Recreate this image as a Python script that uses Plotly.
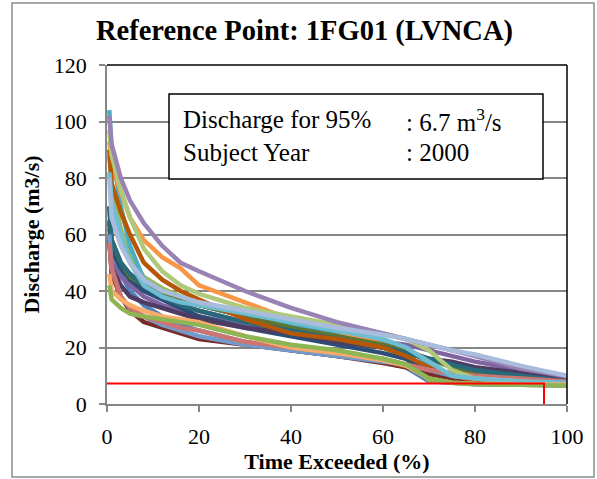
import plotly.graph_objects as go

# Percent of time exceeded (x) shared by all duration curves
X_PCT = [0.5, 1, 3, 5, 8, 12, 16, 20, 30, 40, 50, 60, 65, 70, 75, 80, 90, 100]

# Discharge (m3/s) for each yearly duration curve
S01 = [62, 55, 46, 40, 35, 31, 28, 26, 22, 19, 17, 15, 13, 8, 7.5, 7, 6.8, 6.5]
S02 = [64, 58, 50, 46, 42, 38, 35, 33, 29, 26, 23, 20, 18, 16, 14, 12, 10, 8]
S03 = [88, 78, 62, 52, 45, 41, 38, 36, 32, 28, 24, 20, 16, 8.5, 8, 7.5, 7, 6.8]
S04 = [57, 50, 45, 42, 38, 35, 33, 31, 28, 26, 24, 22, 21, 19, 17, 15, 12, 9]
S05 = [104, 90, 70, 56, 44, 40, 37, 35, 31, 28, 25, 22, 20, 14, 9, 8, 7.5, 7]
S06 = [93, 85, 75, 66, 58, 52, 48, 42, 36, 30, 26, 21, 18, 11, 8.5, 8, 7.5, 7]
S07 = [65, 55, 48, 44, 40, 37, 34, 31, 27, 24, 21, 18, 16, 12, 9, 8.5, 7.5, 7]
S08 = [60, 46, 38, 33, 29, 27, 25, 23, 21, 19, 17, 14.5, 13, 10.5, 8.5, 8, 7.5, 7]
S09 = [70, 58, 50, 45, 42, 39, 37, 35, 31, 27, 24, 21, 19, 16, 13, 11, 9, 8]
S10 = [58, 48, 42, 38, 36, 34, 32, 30, 27, 25, 22, 20, 18, 16, 15, 13, 11, 8]
S11 = [70, 58, 50, 46, 42, 38, 35, 33, 29, 26, 23, 20, 18, 16, 14, 12, 10, 8]
S12 = [90, 78, 68, 60, 50, 44, 40, 37, 30, 25, 23, 20, 17, 13, 10, 8.5, 7.5, 7]
S13 = [60, 48, 38, 34, 31, 28, 26, 24, 21, 19, 17, 15, 14, 12, 10, 9, 8, 7]
S14 = [57, 48, 38, 34, 31, 29, 27, 26, 22, 20, 18, 16, 14, 12, 11, 10, 9, 8]
S15 = [97, 88, 76, 66, 55, 47, 42, 39, 34, 31, 28, 25, 23, 19, 12, 9, 8, 7]
S16 = [102, 92, 80, 72, 64, 56, 50, 47, 40, 34, 29, 25, 23, 21, 19, 17, 12.5, 10]
S17 = [82, 72, 60, 50, 42, 38, 36, 35, 32, 29, 26, 23, 20, 15, 10, 9, 8, 7.5]
S18 = [46, 40, 37, 35, 33, 31, 30, 29, 24, 20, 18, 15.5, 13.5, 9, 7.5, 7.2, 7, 6.8]
S19 = [80, 66, 56, 50, 44, 40, 38, 36, 33, 30, 27, 24.5, 23, 21, 19, 17.5, 13.5, 10]
S20 = [42, 37, 34, 32, 31, 30, 29, 28, 24, 21, 19, 16, 14, 9, 7.5, 7, 6.8, 6.5]
SERIES = [S01, S02, S03, S04, S05, S06, S07, S08, S09, S10,
          S11, S12, S13, S14, S15, S16, S17, S18, S19, S20]
COLORS = ["#4F81BD", "#C0504D", "#9BBB59", "#8064A2", "#4BACC6", "#F79646",
          "#2C4D75", "#772C2A", "#5F7530", "#4D3B62", "#276A7C", "#B65708",
          "#729ACA", "#CD7371", "#AFC97A", "#9983B5", "#6FBDD1", "#F9AB6B",
          "#A9BCDC", "#8DB554"]

# 95 % exceedance marker
P95 = 95
Q95_LINE = 7.3

Y_TICKS = [0, 20, 40, 60, 80, 100, 120]
X_TICKS = [0, 20, 40, 60, 80, 100]

fig = go.Figure()
for s, c in zip(SERIES, COLORS):
    fig.add_trace(go.Scatter(x=X_PCT, y=s, mode="lines",
                             line=dict(color=c, width=4.5), hoverinfo="skip"))
fig.add_trace(go.Scatter(x=[0, P95, P95], y=[Q95_LINE, Q95_LINE, 0], mode="lines",
                         line=dict(color="#FF0000", width=2), hoverinfo="skip"))

serif = "Liberation Serif, Times New Roman, serif"
fig.update_layout(
    width=597, height=479,
    margin=dict(l=107, r=30, t=65, b=75),
    paper_bgcolor="white", plot_bgcolor="white",
    showlegend=False,
    font=dict(family=serif, color="black", size=22),
    title=dict(text="<b>Reference Point: 1FG01 (LVNCA)</b>", x=0.51, xanchor="center",
               y=0.937, yanchor="middle", font=dict(size=28.5, family=serif)),
    xaxis=dict(range=[0, 100], tickvals=X_TICKS, showgrid=False, zeroline=False,
               automargin=False,
               showline=True, linecolor="#868686", linewidth=1.5,
               ticks="outside", ticklen=6, tickcolor="#868686", tickwidth=1.5,
               tickfont=dict(size=22), ticklabelstandoff=6,
               title=dict(text="<b>Time Exceeded (%)</b>", font=dict(size=22), standoff=2)),
    yaxis=dict(range=[0, 120], tickvals=Y_TICKS, showgrid=True, gridcolor="#868686",
               gridwidth=1.5, zeroline=False, automargin=False,
               showline=True, linecolor="#868686", linewidth=1.5,
               ticks="outside", ticklen=6, tickcolor="#868686", tickwidth=1.5,
               tickfont=dict(size=22), ticklabelstandoff=8,
               title=dict(text="<b>Discharge (m3/s)</b>", font=dict(size=22), standoff=8)),
)

# plot-area border (black top/right) and chart border (gray)
fig.add_shape(type="line", xref="paper", yref="paper", x0=0, x1=1, y0=1, y1=1,
              line=dict(color="black", width=1.5), layer="above")
fig.add_shape(type="line", xref="paper", yref="paper", x0=1, x1=1, y0=0, y1=1,
              line=dict(color="black", width=1.5), layer="above")
fig.add_shape(type="rect", xref="paper", yref="paper", x0=-0.2065, x1=1.0587,
              y0=-0.2153, y1=1.1829, line=dict(color="#8C8C8C", width=1.5), layer="below")

# info box
fig.add_shape(type="rect", xref="paper", yref="paper", x0=0.1348, x1=0.9478,
              y0=0.6637, y1=0.9145, fillcolor="white",
              line=dict(color="black", width=1.5), layer="above")
for txt, xx, yy in [("Discharge for 95%", 0.161, 0.838),
                    (": 6.7 m<sup>3</sup>/s", 0.6457, 0.838),
                    ("Subject Year", 0.161, 0.743),
                    (": 2000", 0.6457, 0.743)]:
    fig.add_annotation(text=txt, xref="paper", yref="paper", x=xx, y=yy,
                       xanchor="left", yanchor="middle", showarrow=False,
                       font=dict(size=25, family=serif, color="black"))

fig.write_html("out.html", config={"displayModeBar": False},
               post_script="document.body.style.margin='0';")
